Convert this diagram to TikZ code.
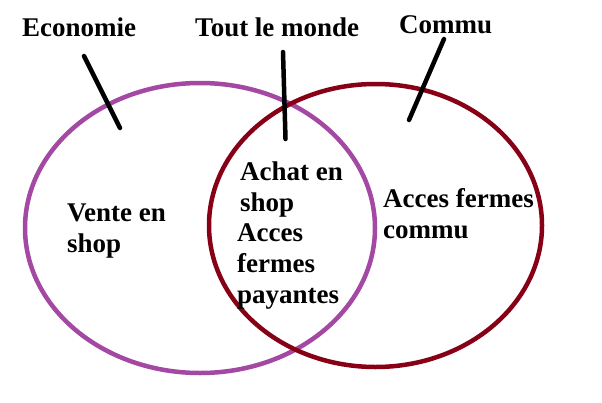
\documentclass[tikz,border=0pt]{standalone}
\usepackage{fontspec}
\setmainfont{Liberation Serif}
\definecolor{paintpurple}{RGB}{163,73,164}
\definecolor{paintred}{RGB}{136,0,21}
\begin{document}
\begin{tikzpicture}[x=1pt,y=-1pt,
  setring/.style={line width=4.5pt},
  pointer/.style={line width=4.5pt,black,line cap=round},
  lbl/.style={anchor=base west,inner sep=0pt,align=left,font=\fontsize{27}{31}\selectfont\bfseries}]
\useasboundingbox[fill=white] (0,0) rectangle (602,402);
\draw[setring,paintpurple] (200,228) ellipse [x radius=175,y radius=145];
\draw[setring,paintred] (375.5,225.5) ellipse [x radius=166.5,y radius=141.5];
\node[lbl] (eco) at (22,36) {Economie};
\node[lbl] (tout) at (195,36) {Tout le monde};
\node[lbl] (commu) at (399,33) {Commu};
\node[lbl] (vente) at (67,252) {Vente en\\shop};
\node[lbl] (achat) at (240,211) {Achat en\\shop};
\node[lbl] (payantes) at (237,303) {Acces\\fermes\\payantes};
\node[lbl] (fermescommu) at (383,238) {Acces fermes\\commu};
\coordinate (ecoA) at (84,56);
\coordinate (ecoB) at (120,128);
\coordinate (toutA) at (283,52);
\coordinate (toutB) at (285.5,139);
\coordinate (commuA) at (444,39);
\coordinate (commuB) at (409,120);
\draw[pointer] (ecoA) -- (ecoB);
\draw[pointer] (toutA) -- (toutB);
\draw[pointer] (commuA) -- (commuB);
\end{tikzpicture}
\end{document}
